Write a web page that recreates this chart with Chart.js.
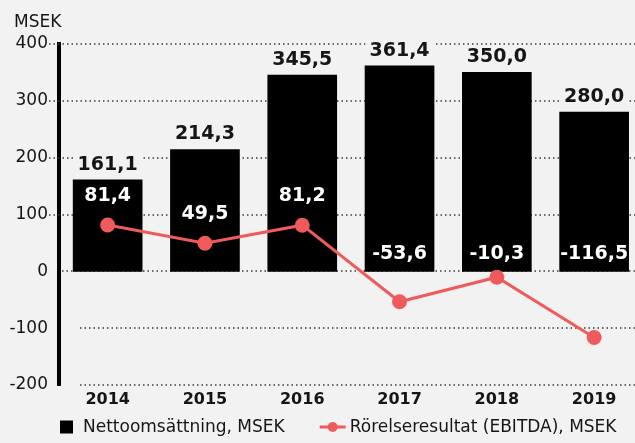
<!DOCTYPE html>
<html>
<head>
<meta charset="utf-8">
<script src="https://cdn.jsdelivr.net/npm/chart.js@4"></script>
<style>
  html, body { margin: 0; padding: 0; background: #f2f2f2; }
  #wrap { width: 635px; height: 443px; position: relative; }
</style>
</head>
<body>
<div id="wrap"><canvas id="c" width="635" height="443"></canvas></div>
<script>
const years = ['2014', '2015', '2016', '2017', '2018', '2019'];
const netSales = [161.1, 214.3, 345.5, 361.4, 350.0, 280.0];
const ebitda = [81.4, 49.5, 81.2, -53.6, -10.3, -116.5];
const yTicks = [-200, -100, 0, 100, 200, 300, 400];
const seriesNames = ['Nettoomsättning, MSEK', 'Rörelseresultat (EBITDA), MSEK'];
const unitLabel = 'MSEK';

const BG = '#f2f2f2';
const RED = '#ef5b5c';
const TEXT = '#161616';
const REG = '"DejaVu Sans", sans-serif';
const fmt = v => v.toFixed(1).replace('.', ',');

const decor = {
  id: 'decor',
  beforeDatasetsDraw(chart) {
    const ctx = chart.ctx, y = chart.scales.y, ca = chart.chartArea;
    ctx.save();
    ctx.setLineDash([1.5, 3]);
    ctx.lineWidth = 1.5;
    ctx.strokeStyle = '#3a3a3a';
    yTicks.forEach(v => {
      const py = Math.round(y.getPixelForValue(v));
      const x0 = v > 0 ? ca.left - 10 : (v === 0 ? ca.left + 3 : ca.left + 21);
      ctx.beginPath();
      ctx.moveTo(x0, py);
      ctx.lineTo(ca.right, py);
      ctx.stroke();
    });
    ctx.restore();
  },
  afterDatasetsDraw(chart) {
    const ctx = chart.ctx, x = chart.scales.x, y = chart.scales.y;
    ctx.save();
    ctx.font = 'bold 19px "DejaVu Sans", sans-serif';
    ctx.textAlign = 'center';
    ctx.textBaseline = 'middle';
    netSales.forEach((v, i) => {
      const px = x.getPixelForValue(i);
      const py = y.getPixelForValue(v) - 16;
      const t = fmt(v);
      const w = ctx.measureText(t).width;
      ctx.fillStyle = BG;
      ctx.fillRect(px - w / 2 - 4, py - 10, w + 8, 20);
      ctx.fillStyle = TEXT;
      ctx.fillText(t, px, py + 1);
    });
    ebitda.forEach((v, i) => {
      const px = x.getPixelForValue(i);
      const py = v > 0 ? y.getPixelForValue(v) - 30 : y.getPixelForValue(0) - 18;
      ctx.fillStyle = '#ffffff';
      ctx.fillText(fmt(v), px, py + 1);
    });
    ctx.font = '17px ' + REG;
    ctx.textAlign = 'left';
    ctx.textBaseline = 'alphabetic';
    ctx.fillStyle = TEXT;
    ctx.fillText(unitLabel, 14, 27);
    const ly = 427;
    ctx.textBaseline = 'middle';
    ctx.fillStyle = '#000';
    ctx.fillRect(60, ly - 6.5, 13, 13);
    ctx.fillStyle = TEXT;
    ctx.fillText(seriesNames[0], 83, ly + 1);
    const x2 = 83 + ctx.measureText(seriesNames[0]).width + 35;
    ctx.strokeStyle = RED;
    ctx.lineWidth = 3;
    ctx.beginPath();
    ctx.moveTo(x2, ly);
    ctx.lineTo(x2 + 26, ly);
    ctx.stroke();
    ctx.fillStyle = RED;
    ctx.beginPath();
    ctx.arc(x2 + 13, ly, 5, 0, Math.PI * 2);
    ctx.fill();
    ctx.fillStyle = TEXT;
    ctx.fillText(seriesNames[1], x2 + 30, ly + 1);
    ctx.restore();
  }
};

new Chart(document.getElementById('c'), {
  type: 'bar',
  data: {
    datasets: [
      {
        type: 'line',
        label: seriesNames[1],
        data: ebitda.map((v, i) => ({ x: i, y: v })),
        borderColor: RED,
        backgroundColor: RED,
        borderWidth: 3,
        pointRadius: 7.5,
        pointBorderWidth: 0,
        pointBackgroundColor: RED,
        order: 0
      },
      {
        type: 'bar',
        label: seriesNames[0],
        data: netSales.map((v, i) => ({ x: i, y: v })),
        backgroundColor: '#000000',
        barThickness: 69,
        order: 1
      }
    ]
  },
  options: {
    responsive: false,
    animation: false,
    devicePixelRatio: 1,
    layout: { autoPadding: false, padding: { top: 44, right: 0, bottom: 32, left: 0 } },
    plugins: { legend: { display: false }, tooltip: { enabled: false } },
    scales: {
      x: {
        type: 'linear',
        offset: false,
        bounds: 'data',
        min: -0.5,
        max: 5.42,
        grid: { display: false, drawTicks: false, offset: false },
        border: { display: false },
        afterBuildTicks: s => { s.ticks = years.map((_, i) => ({ value: i })); },
        afterFit: s => { s.height = 26; },
        ticks: {
          padding: 5,
          autoSkip: false,
          maxRotation: 0,
          color: TEXT,
          font: { family: REG, size: 16, weight: 'bold' },
          callback: v => years[v] ?? ''
        }
      },
      y: {
        min: -200,
        max: 400,
        afterBuildTicks: s => { s.ticks = yTicks.map(v => ({ value: v })); },
        afterFit: s => { s.width = 59; },
        grid: { display: false, drawTicks: false },
        border: { display: true, color: '#000', width: 4 },
        ticks: {
          padding: 11,
          color: TEXT,
          font: { family: REG, size: 17 },
          callback: v => String(v)
        }
      }
    }
  },
  plugins: [decor]
});
</script>
</body>
</html>
